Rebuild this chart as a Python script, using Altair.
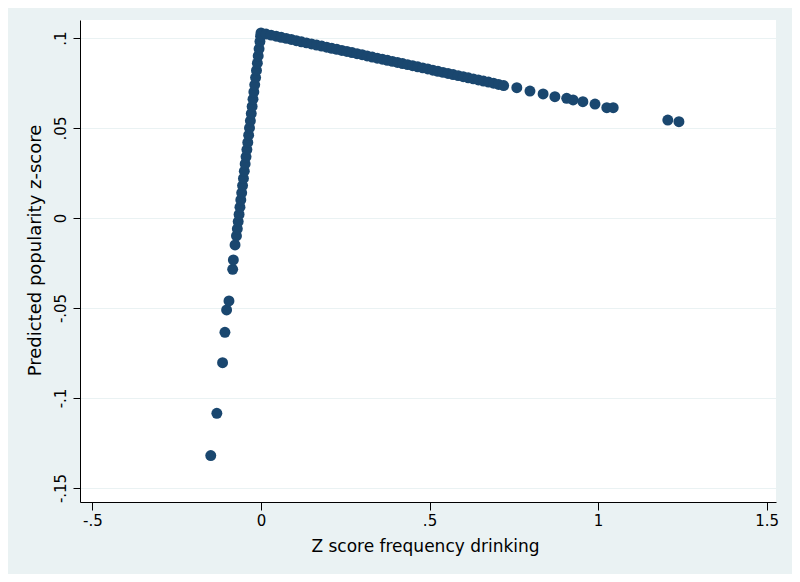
import altair as alt
import pandas as pd

# Lower isolated points (left of zero)
x_low = [-0.149, -0.131, -0.114, -0.107, -0.102, -0.095, -0.084, -0.082, -0.077]
y_low = [-0.132, -0.1085, -0.0804, -0.0635, -0.0511, -0.0461, -0.0285, -0.0233, -0.015]

# Dense steep section (approaching zero)
x_steep = [-0.0728, -0.0702, -0.0676, -0.0650, -0.0624, -0.0599, -0.0573, -0.0547,
           -0.0521, -0.0495, -0.0470, -0.0444, -0.0418, -0.0392, -0.0366, -0.0341,
           -0.0315, -0.0289, -0.0263, -0.0237, -0.0212, -0.0186, -0.0160, -0.0134,
           -0.0108, -0.0083, -0.0057, -0.0031, -0.0012]
y_steep = [-0.010, -0.006, -0.002, 0.002, 0.006, 0.010, 0.014, 0.018,
           0.022, 0.026, 0.030, 0.034, 0.038, 0.042, 0.046, 0.050,
           0.054, 0.058, 0.062, 0.066, 0.070, 0.074, 0.078, 0.082,
           0.086, 0.090, 0.094, 0.098, 0.101]

# Dense gentle section (right of zero)
x_gentle = [0.000, 0.015, 0.030, 0.045, 0.060, 0.075, 0.090, 0.105, 0.120, 0.135,
            0.150, 0.165, 0.180, 0.195, 0.210, 0.225, 0.240, 0.255, 0.270, 0.285,
            0.300, 0.315, 0.330, 0.345, 0.360, 0.375, 0.390, 0.405, 0.420, 0.435,
            0.450, 0.465, 0.480, 0.495, 0.510, 0.525, 0.540, 0.555, 0.570, 0.585,
            0.600, 0.615, 0.630, 0.645, 0.660, 0.675, 0.690, 0.705, 0.720]
y_gentle = [0.1028, 0.1022, 0.1016, 0.1010, 0.1004, 0.0998, 0.0992, 0.0985, 0.0979, 0.0973,
            0.0967, 0.0961, 0.0955, 0.0949, 0.0943, 0.0937, 0.0931, 0.0925, 0.0919, 0.0913,
            0.0907, 0.0900, 0.0894, 0.0888, 0.0882, 0.0876, 0.0870, 0.0864, 0.0858, 0.0852,
            0.0846, 0.0840, 0.0834, 0.0828, 0.0821, 0.0815, 0.0809, 0.0803, 0.0797, 0.0791,
            0.0785, 0.0779, 0.0773, 0.0767, 0.0761, 0.0755, 0.0749, 0.0742, 0.0736]

# Isolated points on the right
x_high = [0.759, 0.798, 0.837, 0.872, 0.907, 0.926, 0.955, 0.991, 1.026, 1.045, 1.207, 1.240]
y_high = [0.0724, 0.0705, 0.0689, 0.0674, 0.0665, 0.0656, 0.0646, 0.0633, 0.0613, 0.0613, 0.0544, 0.0535]

x_ticks = [-0.5, 0, 0.5, 1, 1.5]
x_tick_labels = ["-.5", "0", ".5", "1", "1.5"]
y_ticks = [-0.15, -0.1, -0.05, 0, 0.05, 0.1]
y_tick_labels = ["-.15", "-.1", "-.05", "0", ".05", ".1"]

df = pd.DataFrame({
    "x": x_low + x_steep + x_gentle + x_high,
    "y": y_low + y_steep + y_gentle + y_high,
})

def label_expr(values, labels):
    v = ",".join(repr(float(a)) for a in values)
    l = ",".join("'" + s + "'" for s in labels)
    return f"[{l}][indexof([{v}], datum.value)]"

FONT = "DejaVu Sans"
BG = "#EAF2F3"

chart = alt.Chart(df).mark_circle(size=120, color="#1A476F", opacity=1).encode(
    x=alt.X("x:Q",
            scale=alt.Scale(domain=[-0.537, 1.528], nice=False, zero=False),
            axis=alt.Axis(values=x_ticks, labelExpr=label_expr(x_ticks, x_tick_labels),
                          title="Z score frequency drinking", grid=False,
                          tickSize=8, labelPadding=3, labelFontSize=15,
                          titleFontSize=17, titleFontWeight="normal",
                          titleX=345, titleY=44, titleBaseline="middle", titleAlign="center")),
    y=alt.Y("y:Q",
            scale=alt.Scale(domain=[-0.1578, 0.11], nice=False, zero=False),
            axis=alt.Axis(values=y_ticks, labelExpr=label_expr(y_ticks, y_tick_labels),
                          title="Predicted popularity z-score", grid=True,
                          gridColor=BG, gridWidth=1,
                          tickSize=7, labelPadding=13, labelFontSize=15,
                          labelAngle=270, labelAlign="center", labelBaseline="middle",
                          titleFontSize=18, titleFontWeight="normal",
                          titleAngle=270, titleX=-45, titleY=230,
                          titleBaseline="middle", titleAlign="center")),
).properties(
    width=696, height=482,
    autosize=alt.AutoSizeParams(type="none"),
    padding={"left": 72, "top": 12, "right": 16, "bottom": 72},
    background=BG,
).configure_view(
    fill="white", stroke=None
).configure_axis(
    domainColor="black", tickColor="black", labelColor="black", titleColor="black",
    labelFont=FONT, titleFont=FONT, domainWidth=1, tickWidth=1,
)

chart.save("out.html", embed_options={"renderer": "svg", "actions": False})
